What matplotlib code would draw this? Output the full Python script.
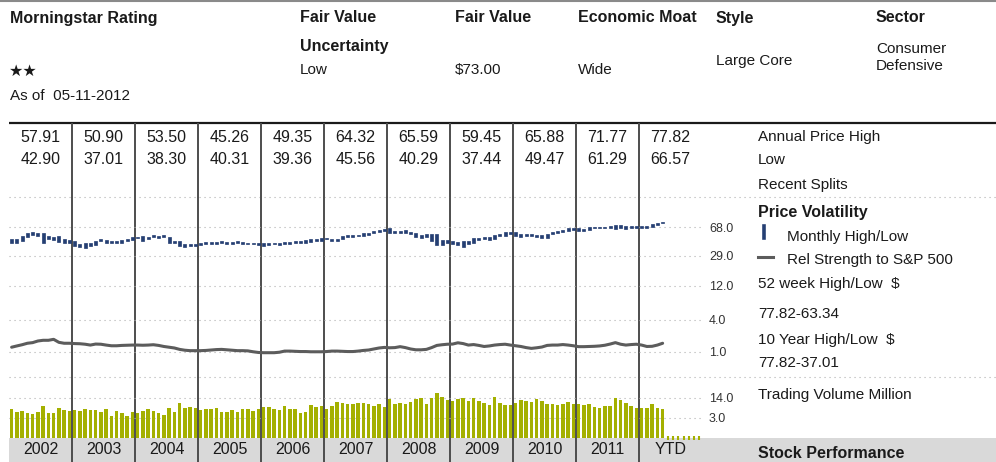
import numpy as np
import matplotlib
matplotlib.use('Agg')
import matplotlib.pyplot as plt
from matplotlib import font_manager
from matplotlib.lines import Line2D
from matplotlib.ticker import NullLocator

# ---- data -------------------------------------------------------------
years = ['2002', '2003', '2004', '2005', '2006', '2007', '2008', '2009', '2010', '2011', 'YTD']
annual_high = [57.91, 50.90, 53.50, 45.26, 49.35, 64.32, 65.59, 59.45, 65.88, 71.77, 77.82]
annual_low = [42.90, 37.01, 38.30, 40.31, 39.36, 45.56, 40.29, 37.44, 49.47, 61.29, 66.57]

# monthly (high, low) price, Jan 2002 .. May 2012
monthly_hl = [
    (47.5, 42.9), (47.5, 42.8), (52.2, 45.5), (56.9, 51.0), (57.91, 53.7), (57.5, 52.8),
    (57.5, 42.9), (52.8, 47.5), (51.0, 46.4), (52.8, 44.2), (47.5, 42.9), (46.4, 43.0),
    (45.5, 38.9), (41.2, 38.3), (42.3, 37.01), (42.8, 38.9), (45.5, 40.1), (47.8, 45.5),
    (46.4, 42.3), (45.1, 42.3), (45.1, 42.3), (46.4, 42.8), (47.5, 45.5), (50.9, 46.4),
    (51.0, 48.8), (52.2, 45.5), (50.2, 47.8), (53.5, 50.2), (52.2, 48.8), (53.4, 51.0),
    (50.2, 42.3), (45.1, 42.3), (45.5, 38.9), (41.2, 38.3), (41.2, 38.9), (41.2, 38.9),
    (42.3, 40.31), (44.2, 41.2), (44.2, 41.2), (44.2, 41.0), (45.26, 42.8), (44.2, 41.2),
    (44.2, 41.2), (45.1, 42.3), (44.2, 41.2), (42.8, 41.0), (42.8, 41.0), (42.8, 40.4),
    (42.3, 39.36), (42.8, 40.1), (42.8, 41.2), (42.3, 40.1), (44.2, 41.2), (44.2, 41.2),
    (45.1, 42.3), (45.1, 42.8), (46.4, 42.8), (47.8, 43.2), (47.8, 45.5), (49.35, 45.5),
    (49.0, 47.3), (47.8, 45.56), (47.8, 45.6), (52.0, 47.5), (53.5, 51.0), (53.5, 51.0),
    (54.5, 52.0), (56.5, 52.5), (57.5, 53.0), (61.0, 57.0), (63.0, 58.5), (64.32, 61.0),
    (65.59, 57.0), (61.0, 56.5), (61.0, 56.5), (62.0, 57.5), (59.5, 55.5), (57.5, 51.0),
    (53.5, 49.0), (55.0, 50.5), (55.0, 45.5), (55.0, 40.29), (46.5, 40.5), (46.5, 43.0),
    (45.5, 41.2), (44.0, 40.0), (45.0, 37.44), (45.5, 41.2), (49.0, 42.5), (49.5, 46.5),
    (50.0, 47.5), (50.0, 46.5), (53.5, 48.0), (55.0, 52.0), (58.0, 52.5), (59.45, 55.5),
    (58.0, 52.5), (55.5, 51.0), (55.5, 52.2), (55.5, 52.2), (53.7, 50.2), (53.7, 49.6),
    (55.3, 49.47), (58.2, 55.3), (60.4, 56.8), (62.3, 58.2), (65.4, 61.0), (65.88, 62.3),
    (65.4, 61.3), (65.0, 61.29), (67.4, 61.5), (68.6, 65.5), (68.6, 66.4), (68.6, 65.5),
    (70.0, 65.5), (71.77, 63.3), (71.5, 65.4), (70.0, 63.3), (70.0, 65.4), (70.6, 66.6),
    (70.6, 66.57), (70.6, 67.0), (74.3, 68.6), (77.0, 72.1), (77.82, 75.8),
]

# relative strength to S&P 500, monthly
rel_strength = [
    1.23, 1.30, 1.37, 1.46, 1.50, 1.61, 1.66, 1.66, 1.73, 1.52, 1.46, 1.46,
    1.44, 1.43, 1.40, 1.35, 1.41, 1.40, 1.35, 1.31, 1.31, 1.33, 1.34, 1.35,
    1.35, 1.34, 1.35, 1.37, 1.33, 1.27, 1.23, 1.19, 1.12, 1.08, 1.06, 1.06,
    1.06, 1.07, 1.09, 1.11, 1.12, 1.10, 1.08, 1.06, 1.06, 1.05, 1.01, 0.98,
    0.97, 0.97, 0.97, 0.99, 1.04, 1.04, 1.03, 1.02, 1.02, 1.01, 1.01, 1.01,
    1.02, 1.04, 1.04, 1.03, 1.02, 1.02, 1.04, 1.07, 1.09, 1.14, 1.19, 1.22,
    1.20, 1.21, 1.26, 1.21, 1.14, 1.10, 1.10, 1.12, 1.21, 1.33, 1.37, 1.40,
    1.41, 1.49, 1.44, 1.35, 1.38, 1.33, 1.27, 1.30, 1.35, 1.38, 1.40, 1.35,
    1.31, 1.27, 1.21, 1.17, 1.20, 1.24, 1.33, 1.35, 1.35, 1.38, 1.35, 1.31,
    1.26, 1.26, 1.27, 1.28, 1.30, 1.34, 1.41, 1.50, 1.40, 1.35, 1.38, 1.40,
    1.35, 1.27, 1.28, 1.35, 1.46,
]

# trading volume, million
volume = [
    5.9, 4.7, 5.1, 4.3, 4.0, 4.8, 7.7, 4.3, 4.3, 6.6, 5.6, 5.1,
    5.6, 5.1, 6.0, 5.4, 5.4, 4.7, 6.1, 3.6, 5.0, 4.5, 3.5, 4.8,
    4.5, 5.0, 6.0, 5.1, 4.4, 3.9, 6.5, 4.8, 9.3, 6.5, 7.0, 6.5,
    5.7, 5.9, 5.9, 6.3, 4.7, 4.8, 5.6, 4.9, 6.1, 5.9, 5.1, 6.0,
    6.8, 6.8, 5.9, 5.6, 7.6, 6.0, 6.0, 4.3, 4.7, 8.2, 6.8, 7.4,
    5.9, 7.7, 10.3, 9.7, 8.8, 8.8, 9.3, 9.7, 8.6, 7.7, 8.6, 7.2,
    12.9, 8.8, 9.3, 8.6, 10.3, 12.9, 14.0, 8.8, 14.3, 20.1, 15.1, 12.2,
    11.1, 12.9, 14.0, 10.8, 13.7, 11.1, 9.5, 8.0, 14.8, 9.3, 8.0, 8.4,
    9.7, 12.0, 11.4, 10.3, 12.9, 10.8, 8.6, 8.6, 8.0, 8.8, 10.0, 8.8,
    8.8, 8.0, 8.8, 7.2, 6.3, 7.6, 7.7, 14.0, 12.2, 9.3, 7.4, 6.6,
    6.5, 6.5, 8.8, 6.6, 6.1,
]
n_months = 132  # Jan 2002 .. Dec 2012

# ---- style ------------------------------------------------------------
NAVY = '#253f73'
OLIVE = '#a4b000'
RS_GRAY = '#5c5c5c'
TXT = '#1a1a1a'
DOT = (0, (1, 3.5))

names = {f.name for f in font_manager.fontManager.ttflist}
if 'Liberation Sans Narrow' in names:
    REG, RS = 'Liberation Sans Narrow', 13
else:
    REG, RS = 'Liberation Sans', 11
BOLD = 'Liberation Sans'

W, H = 996, 462
fig = plt.figure(figsize=(W / 100, H / 100), dpi=100)


def fx(x):
    return x / W


def fy(y):
    return 1 - y / H


def rect(x0, y0, x1, y1):
    return [x0 / W, 1 - y1 / H, (x1 - x0) / W, (y1 - y0) / H]


def reg(x, y, s, **kw):
    fig.text(fx(x), fy(y), s, family=REG, size=RS, color=TXT, va='center', **kw)


def bold(x, y, s, **kw):
    fig.text(fx(x), fy(y), s, family=BOLD, size=11.5, weight='bold', color=TXT, va='center', **kw)


# ---- header -----------------------------------------------------------
fig.add_artist(Line2D([0, 1], [fy(1), fy(1)], color='#8a8a8a', lw=1.5))
bold(10, 18, 'Morningstar Rating')
bold(300, 18, 'Fair Value')
bold(300, 46, 'Uncertainty')
bold(455, 18, 'Fair Value')
bold(578, 18, 'Economic Moat')
bold(716, 18, 'Style')
bold(876, 18, 'Sector')
fig.text(fx(9), fy(71), '★★', family='DejaVu Sans', size=11.5, color=TXT, va='center')
reg(10, 96, 'As of  05-11-2012')
reg(300, 70, 'Low')
reg(455, 70, r'\$73.00')
reg(578, 70, 'Wide')
reg(716, 61, 'Large Core')
reg(876, 49, 'Consumer')
reg(876, 66, 'Defensive')

# ---- background grid / columns ---------------------------------------
px_per_month = (702 - 9) / n_months
ax_bg = fig.add_axes(rect(9, 120, 996, 462))
ax_bg.set_xlim(0, (996 - 9) / px_per_month)
ax_bg.set_ylim(462, 120)
ax_bg.axis('off')
ax_bg.axhspan(438, 462, color='#d9d9d9', lw=0)
ax_bg.hlines(123, 0, 188, color=TXT, lw=1.6)
ax_bg.hlines([197, 377], 0, 188, color='#b0b0b0', lw=0.8, linestyles=DOT)
ax_bg.vlines(np.arange(12, n_months, 12), 123, 462, color='#4d4d4d', lw=1.4)

for i, yr in enumerate(years):
    cx = 12 * i + 6
    ax_bg.text(cx, 450, yr, ha='center', va='center', family=REG, size=RS + 0.5, color=TXT)
    ax_bg.text(cx, 137, f'{annual_high[i]:.2f}', ha='center', va='center', family=REG, size=RS + 0.5, color=TXT)
    ax_bg.text(cx, 160, f'{annual_low[i]:.2f}', ha='center', va='center', family=REG, size=RS + 0.5, color=TXT)

# ---- right-hand labels -----------------------------------------------
reg(758, 137, 'Annual Price High')
reg(758, 160, 'Low')
reg(758, 185, 'Recent Splits')
bold(758, 213, 'Price Volatility')
fig.add_artist(Line2D([fx(763.5)] * 2, [fy(226), fy(238)], color=NAVY, lw=2.6))
reg(787, 237, 'Monthly High/Low')
fig.add_artist(Line2D([fx(758), fx(773)], [fy(257), fy(257)], color=RS_GRAY, lw=2.2))
reg(787, 260, 'Rel Strength to S&P 500')
reg(758, 284, r'52 week High/Low  \$')
reg(758, 314, '77.82-63.34')
reg(758, 340, r'10 Year High/Low  \$')
reg(758, 363, '77.82-37.01')
reg(758, 395, 'Trading Volume Million')
bold(758, 453, 'Stock Performance')


def panel(y0, y1, lims, ticks):
    ax = fig.add_axes(rect(9, y0, 702, y1))
    ax.patch.set_visible(False)
    ax.set_xlim(0, n_months)
    ax.set_yscale('log')
    ax.set_ylim(*lims)
    ax.set_yticks(ticks)
    ax.set_yticklabels([f'{t:.1f}' for t in ticks])
    ax.yaxis.set_minor_locator(NullLocator())
    ax.yaxis.tick_right()
    ax.set_xticks([])
    ax.tick_params(axis='y', length=0, pad=5, labelsize=9, labelcolor='#333333')
    for lab in ax.get_yticklabels():
        lab.set_family(BOLD)
    for s in ax.spines.values():
        s.set_visible(False)
    ax.grid(axis='y', color='#b0b0b0', lw=0.8, linestyle=DOT)
    ax.set_axisbelow(True)
    return ax


# ---- price volatility -------------------------------------------------
hl = np.array(monthly_hl)
xm = np.arange(len(hl)) + 0.5
ax_p = panel(197, 305, (68 * np.exp(-78 / 34), 68 * np.exp(30 / 34)), [12, 29, 68])
ax_p.bar(xm, hl[:, 0] - hl[:, 1], bottom=hl[:, 1], width=0.6, color=NAVY, ec=NAVY, lw=0.5)

# ---- relative strength ------------------------------------------------
ax_r = panel(305, 377, (np.exp(-25 / 23.1), np.exp(47 / 23.1)), [1, 4])
ax_r.plot(np.arange(len(rel_strength)) + 0.5, rel_strength, color=RS_GRAY, lw=2.2, solid_capstyle='round')

# ---- volume -------------------------------------------------------------
vol_floor = 3 * np.exp(-20 / 13)
ax_v = panel(377, 438, (vol_floor, 3 * np.exp(41 / 13)), [3, 14])
vol = np.array(volume)
ax_v.bar(np.arange(len(vol)) + 0.5, vol - vol_floor, bottom=vol_floor, width=0.65, color=OLIVE, lw=0)
x_future = np.arange(len(vol), n_months) + 0.5
ax_v.plot(x_future, np.full(len(x_future), vol_floor), ls='none', marker='|', ms=3,
          mew=1.5, color=OLIVE, clip_on=False)

fig.savefig('out.png', dpi=100)
